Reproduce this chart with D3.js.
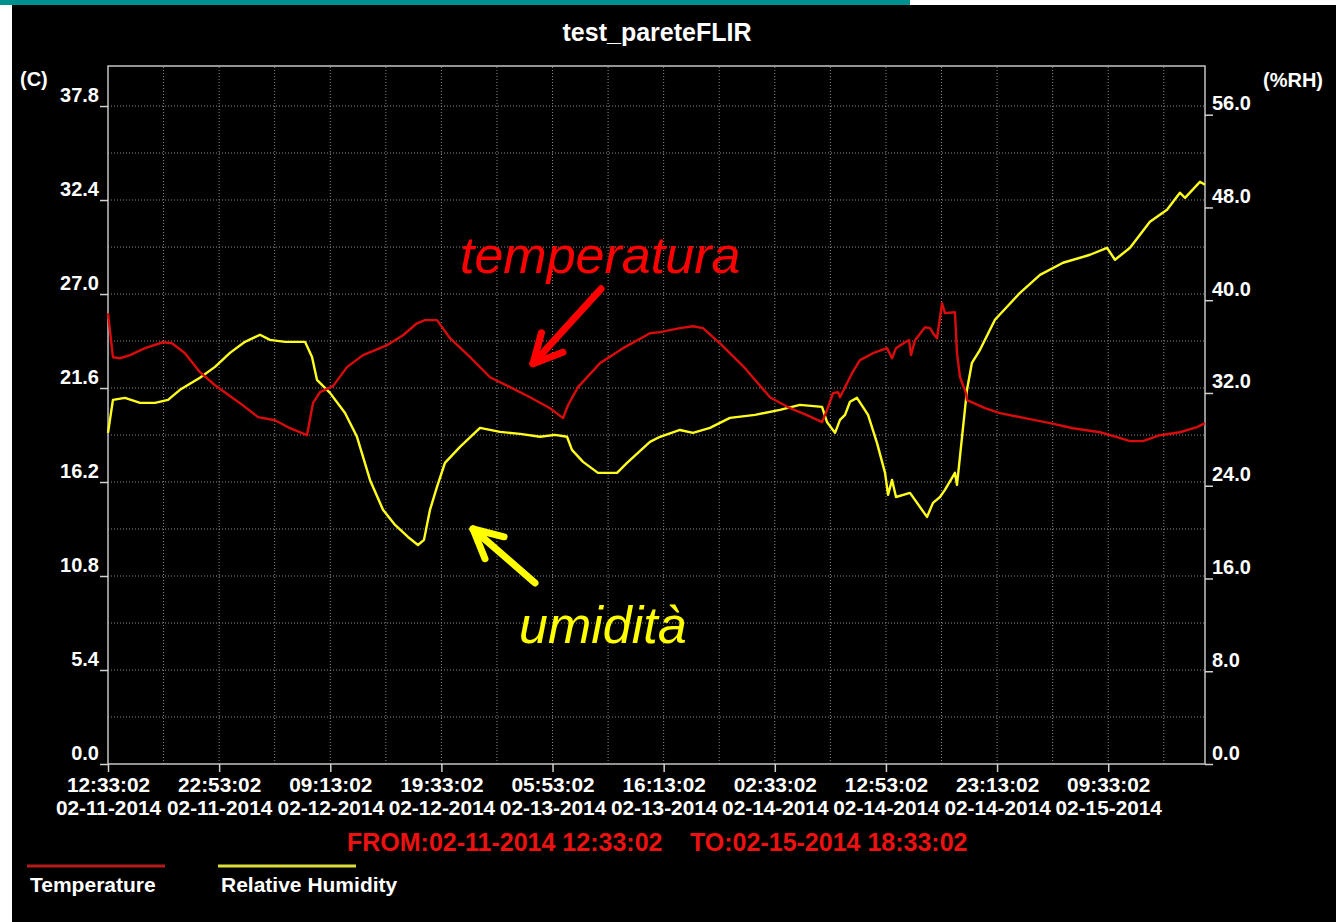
<!DOCTYPE html>
<html>
<head>
<meta charset="utf-8">
<script src="https://cdn.jsdelivr.net/npm/d3@7"></script>
<style>
    body { margin: 0; background: #fff; }
    text { font-family: "Liberation Sans", Arial, sans-serif; }
</style>
</head>
<body>
<div class="container"></div>
<script>
// periodo della registrazione
const fromLabel = "02-11-2014 12:33:02";
const toLabel = "02-15-2014 18:33:02";

// etichette asse x (ogni 10h20m)
const timeTickLabels = [
    "02-11-2014 12:33:02", "02-11-2014 22:53:02", "02-12-2014 09:13:02",
    "02-12-2014 19:33:02", "02-13-2014 05:53:02", "02-13-2014 16:13:02",
    "02-14-2014 02:33:02", "02-14-2014 12:53:02", "02-14-2014 23:13:02",
    "02-15-2014 09:33:02"
];
const tempTicks = [0, 5.4, 10.8, 16.2, 21.6, 27.0, 32.4, 37.8];
const rhTicks = [0, 8, 16, 24, 32, 40, 48, 56];

// temperatura (C): ore dall'inizio, valore
const tempHours = [0, 0.46, 1.12, 2.05, 3.44, 5.11, 5.95, 7.16, 8.55, 9.95, 12.27, 13.95, 15.53, 16.92, 18.50,
    19.06, 19.71, 20.92, 22.22, 23.71, 25.29, 25.94, 27.43, 28.73, 29.47, 30.59, 31.80, 33.66, 35.52, 37.38,
    39.24, 41.10, 42.31, 42.77, 43.70, 45.75, 47.89, 50.39, 51.33, 53.18, 54.39, 55.32, 56.90, 59.23, 61.55,
    63.41, 64.99, 66.39, 66.85, 67.41, 67.88, 68.06, 69.18, 69.92, 71.13, 72.43, 72.90, 73.27, 74.11, 74.48,
    74.66, 75.04, 75.97, 76.43, 76.71, 77.08, 77.55, 77.82, 78.75, 78.94, 79.22, 79.78, 79.87, 81.54, 82.94,
    85.26, 87.59, 89.73, 92.24, 93.82, 95.02, 96.23, 97.81, 99.67, 101.26, 102.0];
const tempValues = [25.90, 23.37, 23.31, 23.49, 23.89, 24.23, 24.17, 23.60, 22.51, 21.76, 20.73, 19.93, 19.75, 19.29, 18.89,
    20.73, 21.36, 21.71, 22.80, 23.49, 23.89, 24.06, 24.63, 25.32, 25.50, 25.50, 24.46, 23.37, 22.22, 21.65,
    21.07, 20.44, 19.87, 20.61, 21.65, 23.03, 23.89, 24.75, 24.81, 25.04, 25.15, 25.04, 24.17, 22.74, 21.07,
    20.44, 20.04, 19.64, 20.33, 21.30, 21.36, 21.07, 22.45, 23.20, 23.60, 23.89, 23.31, 23.89, 24.23, 24.35,
    23.49, 24.35, 25.09, 25.04, 24.75, 24.46, 26.47, 25.90, 25.95, 23.60, 22.22, 21.30, 20.90, 20.44, 20.16,
    19.87, 19.58, 19.29, 19.06, 18.78, 18.55, 18.55, 18.89, 19.06, 19.35, 19.58];

// umidita' relativa (%RH)
const rhHours = [0, 0.46, 1.58, 2.98, 4.37, 5.58, 6.69, 8.55, 9.95, 11.34, 12.74, 14.13, 15.06, 16.46, 18.32,
    18.97, 19.43, 20.64, 22.04, 23.15, 24.08, 24.36, 25.57, 26.69, 27.89, 28.82, 29.38, 29.94, 30.59, 31.33,
    32.73, 34.59, 36.45, 38.31, 40.17, 41.56, 42.68, 43.14, 44.17, 45.56, 47.33, 48.26, 50.39, 51.33, 53.18,
    54.39, 55.97, 57.83, 60.16, 62.48, 64.34, 66.39, 66.85, 67.60, 68.06, 68.53, 68.99, 69.64, 70.67, 71.50,
    72.25, 72.53, 72.90, 73.27, 74.57, 76.15, 76.71, 77.36, 77.82, 78.75, 78.94, 79.41, 79.87, 80.33, 81.08,
    82.47, 84.80, 86.66, 88.80, 91.31, 92.89, 93.63, 95.03, 96.88, 98.47, 99.67, 100.14, 101.53, 102.0];
const rhValues = [28.56, 31.41, 31.58, 31.15, 31.15, 31.41, 32.27, 33.31, 34.25, 35.46, 36.41, 37.02, 36.58, 36.41, 36.41,
    35.11, 33.13, 32.01, 30.28, 28.22, 25.37, 24.50, 21.92, 20.62, 19.58, 18.89, 19.33, 21.92, 23.90, 25.97,
    27.35, 28.99, 28.64, 28.47, 28.22, 28.39, 28.22, 27.09, 26.06, 25.11, 25.11, 25.97, 27.78, 28.22, 28.81,
    28.56, 28.99, 29.85, 30.11, 30.54, 30.97, 30.80, 29.50, 28.56, 29.68, 30.11, 31.24, 31.58, 30.11, 27.70,
    25.11, 23.21, 24.50, 23.03, 23.38, 21.31, 22.52, 23.03, 23.64, 25.11, 24.07, 28.22, 32.27, 34.60, 35.72,
    38.31, 40.64, 42.19, 43.23, 43.92, 44.52, 43.49, 44.52, 46.77, 47.80, 49.27, 48.83, 50.21, 49.96];

// annotazioni (ore, temperatura sull'asse sinistro)
const annotations = [
    { text: "temperatura", color: "#ff0000", at: [32.73, 28.2], tail: [45.84, 27.3], tip: [39.52, 23.0] },
    { text: "umidità", color: "#ffff00", at: [38.22, 6.95], tail: [39.70, 10.4], tip: [33.94, 13.5] }
];

const width = 1336, height = 922;
const parse = d3.timeParse("%m-%d-%Y %H:%M:%S");
const startTime = parse(fromLabel);
const endTime = parse(toLabel);
const toDate = h => d3.timeSecond.offset(startTime, Math.round(h * 3600));

const temp = tempHours.map((h, i) => ({ t: toDate(h), v: tempValues[i] }));
const rh = rhHours.map((h, i) => ({ t: toDate(h), v: rhValues[i] }));

const margin = { left: 108, right: 131, top: 66, bottom: 158 };
const x = d3.scaleTime().domain([startTime, endTime]).range([margin.left, width - margin.right]);
const yT = d3.scaleLinear().domain([0, 40.1]).range([height - margin.bottom, margin.top]);
const yRH = d3.scaleLinear().domain([0, 60.2]).range([height - margin.bottom, margin.top]);

const svg = d3.select(".container").append("svg")
    .attr("width", width).attr("height", height);

// sfondo: pagina bianca, barra teal, area nera
svg.append("rect").attr("x", 0).attr("y", 0).attr("width", 910).attr("height", 5).attr("fill", "#00918f");
svg.append("rect").attr("x", 12).attr("y", 5).attr("width", width - 12).attr("height", height - 5).attr("fill", "#000");

// griglia tratteggiata
const grid = svg.append("g").attr("stroke", "#8a8a8a").attr("stroke-width", 1).attr("stroke-dasharray", "1,2");
grid.selectAll("line.h")
    .data(d3.range(1, 15).map(i => +(i * 2.7).toFixed(1)))
    .join("line").attr("class", "h")
    .attr("x1", x.range()[0]).attr("x2", x.range()[1])
    .attr("y1", d => yT(d)).attr("y2", d => yT(d));
grid.selectAll("line.v")
    .data(d3.range(1, 20).map(i => d3.timeMinute.offset(startTime, i * 310)))
    .join("line").attr("class", "v")
    .attr("x1", d => x(d)).attr("x2", d => x(d))
    .attr("y1", yT.range()[0]).attr("y2", yT.range()[1]);

// bordo del grafico
svg.append("rect")
    .attr("x", x.range()[0]).attr("y", yT.range()[1])
    .attr("width", x.range()[1] - x.range()[0]).attr("height", yT.range()[0] - yT.range()[1])
    .attr("fill", "none").attr("stroke", "#c4c4c4").attr("stroke-width", 1.5);

// assi
function styleAxis(g) {
    g.select(".domain").remove();
    g.selectAll(".tick line").attr("stroke", "#d0d0d0").attr("stroke-width", 1.5);
    g.selectAll(".tick text").attr("fill", "#fff").style("font-size", "20px").style("font-weight", "bold");
}

svg.append("g").attr("transform", `translate(${x.range()[0]},0)`)
    .call(d3.axisLeft(yT).tickValues(tempTicks).tickFormat(d3.format(".1f")).tickSize(8))
    .call(styleAxis)
    .call(g => g.selectAll(".tick text").attr("x", -9).attr("dy", null).attr("y", -5));

svg.append("g").attr("transform", `translate(${x.range()[1]},0)`)
    .call(d3.axisRight(yRH).tickValues(rhTicks).tickFormat(d3.format(".1f")).tickSize(8))
    .call(styleAxis)
    .call(g => g.selectAll(".tick text").attr("x", 7).attr("dy", null).attr("y", -5));

const xAxis = svg.append("g").attr("transform", `translate(0,${yT.range()[0]})`)
    .call(d3.axisBottom(x).tickValues(timeTickLabels.map(parse)).tickSize(8).tickFormat(""))
    .call(styleAxis);
const fmtTime = d3.timeFormat("%H:%M:%S"), fmtDate = d3.timeFormat("%m-%d-%Y");
xAxis.selectAll(".tick text").style("font-size", "20.8px").each(function (d) {
    const t = d3.select(this).attr("y", null).attr("dy", null);
    t.append("tspan").attr("x", 0).attr("y", 28).text(fmtTime(d));
    t.append("tspan").attr("x", 0).attr("y", 51).text(fmtDate(d));
});

// serie
const lineT = d3.line().x(d => x(d.t)).y(d => yT(d.v));
const lineRH = d3.line().x(d => x(d.t)).y(d => yRH(d.v));
svg.append("path").datum(rh).attr("d", lineRH)
    .attr("fill", "none").attr("stroke", "#ffff1e").attr("stroke-width", 2.4).attr("stroke-linejoin", "round");
svg.append("path").datum(temp).attr("d", lineT)
    .attr("fill", "none").attr("stroke", "#d80c0c").attr("stroke-width", 2.4).attr("stroke-linejoin", "round");

// titolo ed etichette unita'
svg.append("text").attr("x", 657).attr("y", 41).attr("text-anchor", "middle")
    .attr("fill", "#fff").style("font-size", "25px").style("font-weight", "bold").text("test_pareteFLIR");
svg.append("text").attr("x", 20).attr("y", 86)
    .attr("fill", "#fff").style("font-size", "20px").style("font-weight", "bold").text("(C)");
svg.append("text").attr("x", 1323).attr("y", 87).attr("text-anchor", "end")
    .attr("fill", "#fff").style("font-size", "20px").style("font-weight", "bold").text("(%RH)");

// intervallo FROM / TO
svg.append("text").attr("x", 347).attr("y", 851)
    .attr("fill", "#ee1111").style("font-size", "25px").style("font-weight", "bold").text("FROM:" + fromLabel);
svg.append("text").attr("x", 690).attr("y", 851)
    .attr("fill", "#ee1111").style("font-size", "25px").style("font-weight", "bold").text("TO:" + toLabel);

// legenda
const legend = [
    { name: "Temperature", color: "#b41c1c", x: 27 },
    { name: "Relative Humidity", color: "#dcdc3c", x: 218 }
];
const lg = svg.append("g").selectAll("g").data(legend).join("g");
lg.append("line").attr("x1", d => d.x).attr("x2", d => d.x + 138).attr("y1", 866).attr("y2", 866)
    .attr("stroke", d => d.color).attr("stroke-width", 3);
lg.append("text").attr("x", d => d.x + 3).attr("y", 892).attr("fill", "#fff")
    .style("font-size", "21px").style("font-weight", "bold").text(d => d.name);

// annotazioni con freccia
const ann = svg.append("g").selectAll("g").data(annotations).join("g");
ann.append("text")
    .attr("x", d => x(toDate(d.at[0]))).attr("y", d => yT(d.at[1]))
    .attr("fill", d => d.color).style("font-size", "52px").style("font-style", "italic")
    .text(d => d.text);
ann.each(function (d) {
    const g = d3.select(this);
    const x0 = x(toDate(d.tail[0])), y0 = yT(d.tail[1]);
    const x1 = x(toDate(d.tip[0])), y1 = yT(d.tip[1]);
    const back = Math.atan2(y0 - y1, x0 - x1);
    const wing = 32, spread = 27 * Math.PI / 180;
    const segs = [[x0, y0], [x1 + wing * Math.cos(back + spread), y1 + wing * Math.sin(back + spread)],
        [x1 + wing * Math.cos(back - spread), y1 + wing * Math.sin(back - spread)]];
    g.selectAll("line").data(segs).join("line")
        .attr("x1", x1).attr("y1", y1)
        .attr("x2", s => s[0]).attr("y2", s => s[1])
        .attr("stroke", d.color).attr("stroke-width", 7).attr("stroke-linecap", "round");
});
</script>
</body>
</html>
